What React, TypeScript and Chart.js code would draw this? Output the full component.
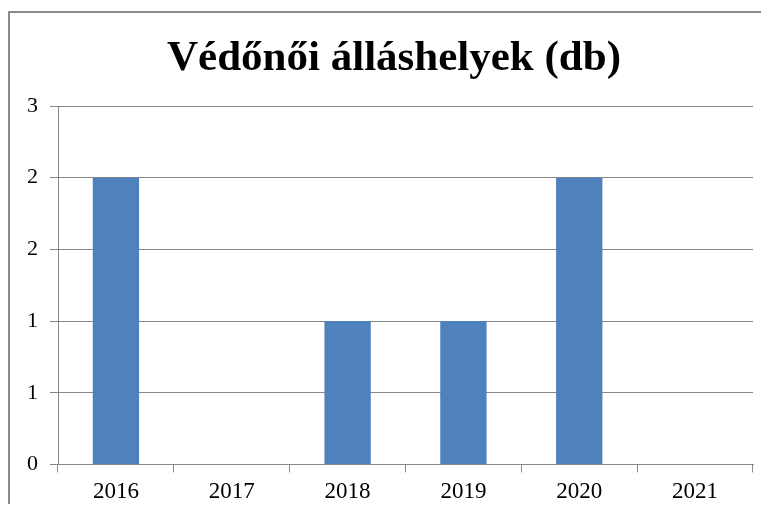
import React, { useEffect, useRef } from "react";
import { Chart, registerables } from "chart.js";

Chart.register(...registerables);

const titleText = "Védőnői álláshelyek (db)";
const years = ["2016", "2017", "2018", "2019", "2020", "2021"];
const positions = [2, 0, 1, 1, 2, 0];
const yMin = 0;
const yMax = 2.5;
const yStep = 0.5;

const SERIF = "'Times New Roman', 'Liberation Serif', serif";
const GRID = "#878787";

const titlePlugin = {
  id: "centeredTitle",
  afterDraw(chart: any, _args: any, opts: any) {
    const ctx = chart.ctx;
    ctx.save();
    ctx.font = `bold ${opts.size}px ${SERIF}`;
    ctx.fillStyle = "#000000";
    ctx.textAlign = "center";
    ctx.textBaseline = "alphabetic";
    ctx.fillText(opts.text, opts.x, opts.y);
    ctx.restore();
  },
};

export default function App() {
  const ref = useRef<HTMLCanvasElement | null>(null);

  useEffect(() => {
    document.body.style.overflow = "hidden";
    const canvas = ref.current;
    if (!canvas) return;
    const chart = new Chart(canvas, {
      type: "bar",
      data: {
        labels: years,
        datasets: [
          {
            data: positions,
            backgroundColor: "#4F81BD",
            borderWidth: 0,
            barPercentage: 0.4,
            categoryPercentage: 1.0,
          },
        ],
      },
      plugins: [titlePlugin],
      options: {
        animation: false,
        responsive: true,
        maintainAspectRatio: false,
        layout: { padding: { left: 5, right: 8, top: 93, bottom: 0 } },
        plugins: {
          legend: { display: false },
          tooltip: { enabled: false },
          title: { display: false },
          centeredTitle: { text: titleText, size: 43, x: 384, y: 57 },
        } as any,
        scales: {
          x: {
            offset: true,
            grid: {
              display: true,
              offset: true,
              drawOnChartArea: false,
              drawTicks: true,
              tickLength: 8,
              color: GRID,
            },
            border: { display: true, color: GRID },
            ticks: {
              color: "#000000",
              font: { family: SERIF, size: 23 },
              padding: 6,
              maxRotation: 0,
            },
          },
          y: {
            min: yMin,
            max: yMax,
            grid: { color: GRID, tickLength: 8, drawTicks: true },
            border: { display: true, color: GRID },
            ticks: {
              stepSize: yStep,
              color: "#000000",
              font: { family: SERIF, size: 22 },
              padding: 12,
              callback: (v: any) => String(Math.round(Number(v))),
            },
          },
        },
      },
    });
    return () => chart.destroy();
  }, []);

  return (
    <div style={{ paddingTop: 3, marginBottom: -8, marginRight: -8 }}>
      <div
        style={{
          borderTop: "2px solid #8a8a8a",
          borderLeft: "2px solid #8a8a8a",
        }}
      >
        <div style={{ position: "relative", height: 499, width: 751 }}>
          <canvas ref={ref} />
        </div>
      </div>
    </div>
  );
}
